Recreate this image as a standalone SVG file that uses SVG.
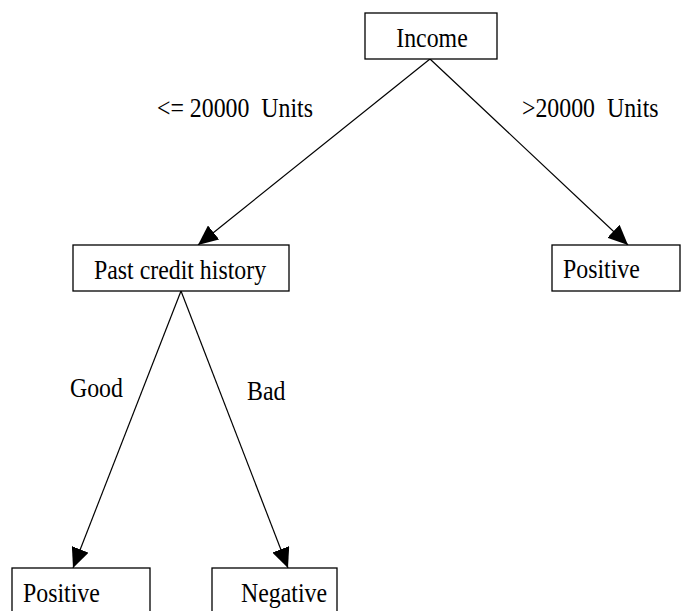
<svg xmlns="http://www.w3.org/2000/svg" width="682" height="611" viewBox="0 0 682 611">
  <style>
    .box { fill: #ffffff; stroke: #000000; stroke-width: 1.3; }
    .lbl { font-family: "Liberation Serif", "Times New Roman", serif; font-size: 26.5px; fill: #000000; white-space: pre; }
    .edge { fill: none; stroke: #000000; stroke-width: 1.2; marker-end: url(#arrow); }
  </style>
  <defs>
    <marker id="arrow" markerUnits="userSpaceOnUse" markerWidth="22" markerHeight="18" refX="20" refY="9" orient="auto">
      <path d="M0,0 L20,9 L0,18 Z" fill="#000000"/>
    </marker>
  </defs>

  <rect width="682" height="611" fill="#ffffff"/>

  <!-- connectors; text is set slightly condensed (scale 0.9 horizontally) -->
  <g id="edges">
    <path class="edge" d="M430,59 L198,245"/>
    <path class="edge" d="M430,59 L628,245"/>
    <path class="edge" d="M181,291 L73,568"/>
    <path class="edge" d="M181,291 L288,568"/>
    <text class="lbl" transform="translate(157 117) scale(0.9 1)">&lt;= 20000  Units</text>
    <text class="lbl" transform="translate(522 117) scale(0.9 1)">&gt;20000  Units</text>
    <text class="lbl" transform="translate(70 397) scale(0.9 1)">Good</text>
    <text class="lbl" transform="translate(247 400) scale(0.9 1)">Bad</text>
  </g>

  <!-- nodes -->
  <g id="income">
    <rect class="box" x="365" y="13" width="132" height="46"/>
    <text class="lbl" transform="translate(432 47) scale(0.9 1)" text-anchor="middle">Income</text>
  </g>
  <g id="past-credit">
    <rect class="box" x="73" y="245" width="216" height="46"/>
    <text class="lbl" transform="translate(180 279) scale(0.9 1)" text-anchor="middle">Past credit history</text>
  </g>
  <g id="positive-high">
    <rect class="box" x="552" y="245" width="128" height="46"/>
    <text class="lbl" transform="translate(563 278) scale(0.9 1)">Positive</text>
  </g>
  <g id="positive-good">
    <rect class="box" x="12" y="568" width="138" height="60"/>
    <text class="lbl" transform="translate(23 602) scale(0.9 1)">Positive</text>
  </g>
  <g id="negative-bad">
    <rect class="box" x="212" y="568" width="125" height="60"/>
    <text class="lbl" transform="translate(241 602) scale(0.9 1)">Negative</text>
  </g>
</svg>
